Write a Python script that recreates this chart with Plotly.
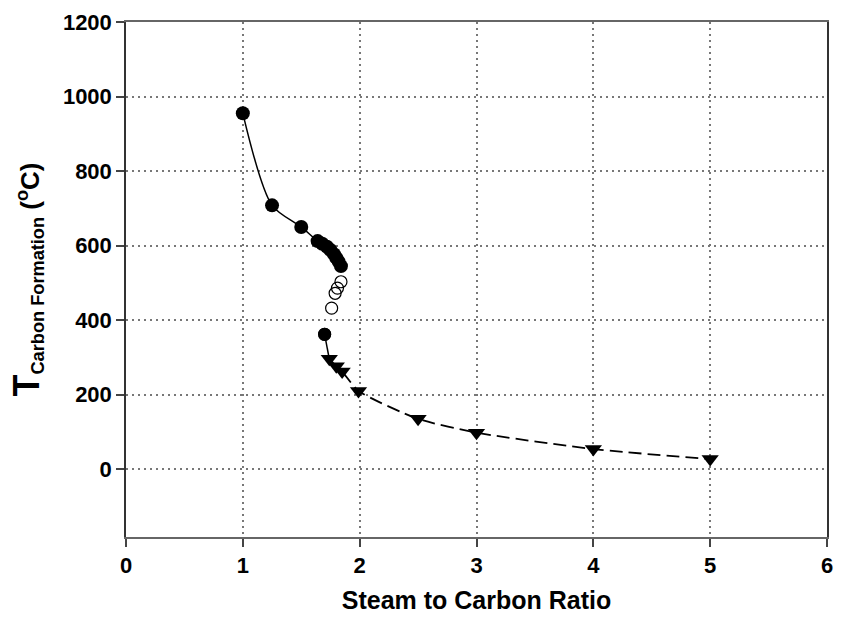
import plotly.graph_objects as go

# Filled circles (solid curve)
fc_x = [1.00, 1.25, 1.50, 1.64, 1.68, 1.72, 1.75, 1.78, 1.80, 1.82, 1.84]
fc_y = [955, 708, 650, 612, 605, 597, 588, 577, 567, 557, 545]
# Open circles
oc_x = [1.84, 1.81, 1.79, 1.76, 1.70]
oc_y = [503, 486, 472, 432, 362]
# Filled circle at the lower branch start
lc_x = [1.70]
lc_y = [362]
# Triangles (dashed curve)
tr_x = [1.74, 1.80, 1.85, 1.99, 2.50, 3.00, 4.00, 5.00]
tr_y = [296, 276, 262, 210, 135, 98, 54, 27]

xticks = [0, 1, 2, 3, 4, 5, 6]
yticks = [0, 200, 400, 600, 800, 1000, 1200]

fig = go.Figure()
fig.add_trace(go.Scatter(x=fc_x, y=fc_y, mode="lines+markers",
                         line=dict(color="black", width=1.5, shape="spline", smoothing=0.8),
                         marker=dict(symbol="circle", size=14, color="black")))
fig.add_trace(go.Scatter(x=[lc_x[0], tr_x[0]], y=[lc_y[0], tr_y[0]], mode="lines",
                         line=dict(color="black", width=1.5)))
fig.add_trace(go.Scatter(x=lc_x, y=lc_y, mode="markers",
                         marker=dict(symbol="circle", size=13, color="black")))
fig.add_trace(go.Scatter(x=oc_x, y=oc_y, mode="markers",
                         marker=dict(symbol="circle-open", size=12, color="black",
                                     line=dict(width=1.2))))
fig.add_trace(go.Scatter(x=tr_x, y=tr_y, mode="lines+markers",
                         line=dict(color="black", width=1.8, dash="13px,6px", shape="spline", smoothing=0.6),
                         marker=dict(symbol="triangle-down", size=15, color="black")))

fig.update_layout(
    width=841, height=630,
    margin=dict(l=126, r=8, t=22, b=93),
    paper_bgcolor="white", plot_bgcolor="white",
    showlegend=False,
    font=dict(family="Liberation Sans, Arial, sans-serif", color="black"),
)
fig.update_xaxes(
    range=[0, 6], tickvals=xticks, ticktext=[str(v) for v in xticks],
    showgrid=True, gridcolor="#777", griddash="1.5px,4.5px", gridwidth=1.5,
    zeroline=False, showline=True, linecolor="#666", linewidth=2, mirror=True,
    ticks="outside", ticklen=8, tickcolor="#444", tickwidth=1.5,
    tickfont=dict(size=22, weight="bold"),
    title=dict(text="Steam to Carbon Ratio", font=dict(size=25, weight="bold"), standoff=14),
)
fig.update_yaxes(
    range=[-182, 1200], tickvals=yticks, ticktext=[str(v) for v in yticks],
    showgrid=True, gridcolor="#777", griddash="1.5px,4.5px", gridwidth=1.5,
    zeroline=False, showline=True, linecolor="#333", linewidth=1.5, mirror=True,
    ticks="outside", ticklen=8, tickcolor="#444", tickwidth=1.5,
    tickfont=dict(size=22, weight="bold"),
    title=dict(text="<span style='font-size:36px'>T</span><sub>Carbon Formation</sub> (<sup>o</sup>C)",
               font=dict(size=26, weight="bold"), standoff=16),
)

fig.write_html("out.html")
